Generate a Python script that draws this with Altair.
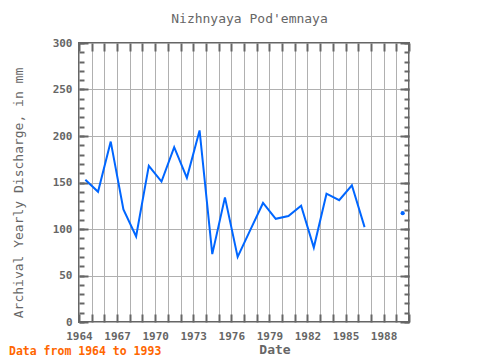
import altair as alt
import pandas as pd

# ---- data ----
years = [1964.5, 1965.5, 1966.5, 1967.5, 1968.5, 1969.5, 1970.5, 1971.5, 1972.5,
         1973.5, 1974.5, 1975.5, 1976.5, 1977.5, 1978.5, 1979.5, 1980.5, 1981.5,
         1982.5, 1983.5, 1984.5, 1985.5, 1986.5, 1987.5, 1988.5, 1989.5]
discharge = [153, 140, 194, 121, 92, 168, 151, 188, 155,
             206, 73, 134, 70, 99, 128, 111, 114, 125,
             80, 138, 131, 147, 102, None, None, 117]

x_ticks = [1964, 1965, 1966, 1967, 1968, 1969, 1970, 1971, 1972, 1973, 1974,
           1975, 1976, 1977, 1978, 1979, 1980, 1981, 1982, 1983, 1984, 1985,
           1986, 1987, 1988, 1989, 1990]
x_label_years = [1964, 1967, 1970, 1973, 1976, 1979, 1982, 1985, 1988]
y_major = [0, 50, 100, 150, 200, 250, 300]
y_minor = [0, 10, 20, 30, 40, 50, 60, 70, 80, 90, 100, 110, 120, 130, 140, 150,
           160, 170, 180, 190, 200, 210, 220, 230, 240, 250, 260, 270, 280, 290, 300]

title_text = ["Nizhnyaya Pod'emnaya"]
x_title = "Date"
y_title = "Archival Yearly Discharge, in mm"
footer = ["Data from 1964 to 1993"]

df = pd.DataFrame({"year": years, "discharge": discharge})

# isolated points (no neighbours) are drawn as dots
iso_rows = []
for i, v in enumerate(discharge):
    if v is None:
        continue
    prev_ok = i > 0 and discharge[i - 1] is not None
    next_ok = i < len(discharge) - 1 and discharge[i + 1] is not None
    if not prev_ok and not next_ok:
        iso_rows.append({"year": years[i], "discharge": v})
iso = pd.DataFrame(iso_rows)

FONT = "DejaVu Sans Mono"
GRAY = "#666666"
BLUE = "#0066ff"

xs = alt.Scale(domain=[1964, 1990], nice=False, zero=False)
ys = alt.Scale(domain=[0, 300], nice=False, zero=True)


def tick_axis(orient, values, size):
    return alt.Axis(orient=orient, values=values, tickSize=size, offset=-size,
                    tickWidth=2, tickColor=GRAY, labels=False, grid=False,
                    domain=False, title=None)


# line layer: grid on x; labels, grid and title on y
line = alt.Chart(df).mark_line(color=BLUE, strokeWidth=2).encode(
    x=alt.X("year:Q", scale=xs,
            axis=alt.Axis(values=x_ticks, grid=True, gridColor="#b0b0b0",
                          gridWidth=1, labels=False, ticks=False, tickSize=0,
                          domain=False, title=None)),
    y=alt.Y("discharge:Q", scale=ys,
            axis=alt.Axis(orient="left", values=y_major, grid=True,
                          gridColor="#b0b0b0", gridWidth=1, ticks=False,
                          tickSize=0, domain=False, labelPadding=7,
                          title=y_title, titleX=-61, titleY=149.5,
                          titleBaseline="middle", titleAngle=270,
                          titleFont=FONT, titleFontSize=13,
                          titleFontWeight="normal", titleColor=GRAY)),
)

# isolated dot: x labels + title, left minor ticks
dots = alt.Chart(iso).mark_circle(color=BLUE, size=18, opacity=1).encode(
    x=alt.X("year:Q", scale=xs,
            axis=alt.Axis(orient="bottom", values=x_label_years, format="d",
                          ticks=False, tickSize=0, grid=False, domain=False,
                          labelPadding=8, labelFlush=False, labelOverlap=False,
                          title=x_title, titleX=195.5, titleY=31,
                          titleBaseline="alphabetic", titleFont=FONT,
                          titleFontSize=13, titleFontWeight="bold",
                          titleColor=GRAY)),
    y=alt.Y("discharge:Q", scale=ys, axis=tick_axis("left", y_minor, 5)),
)

h1 = alt.Chart(df).mark_point(opacity=0).encode(
    x=alt.X("year:Q", scale=xs, axis=tick_axis("bottom", x_ticks, 8)),
    y=alt.Y("discharge:Q", scale=ys, axis=tick_axis("left", y_major, 9)),
)
h2 = alt.Chart(df).mark_point(opacity=0).encode(
    x=alt.X("year:Q", scale=xs, axis=tick_axis("top", x_ticks, 8)),
    y=alt.Y("discharge:Q", scale=ys, axis=tick_axis("right", y_minor, 5)),
)
h3 = alt.Chart(df).mark_point(opacity=0).encode(
    x=alt.X("year:Q", scale=xs, axis=None),
    y=alt.Y("discharge:Q", scale=ys, axis=tick_axis("right", y_major, 9)),
)

head = alt.Chart(pd.DataFrame({"t": title_text})).mark_text(
    align="center", baseline="alphabetic", font=FONT, fontSize=13,
    fontWeight="normal", color=GRAY,
).encode(text="t:N", x=alt.value(170.5), y=alt.value(-20))

foot = alt.Chart(pd.DataFrame({"t": footer})).mark_text(
    align="left", baseline="alphabetic", font=FONT, fontSize=11.5,
    fontWeight="bold", color="#ff6600",
).encode(text="t:N", x=alt.value(-70), y=alt.value(312))

chart = alt.layer(line, dots, h1, h2, h3, head, foot).resolve_axis(
    x="independent", y="independent"
).properties(
    width=330, height=279,
    autosize=alt.AutoSizeParams(type="none"),
    padding={"left": 71, "top": 35, "right": 40, "bottom": 37},
).configure_view(
    stroke=GRAY, strokeWidth=2
).configure_axis(
    labelFont=FONT, labelFontSize=11, labelFontWeight="bold", labelColor=GRAY,
)

chart.save("out.html", embed_options={"renderer": "svg", "actions": False})
